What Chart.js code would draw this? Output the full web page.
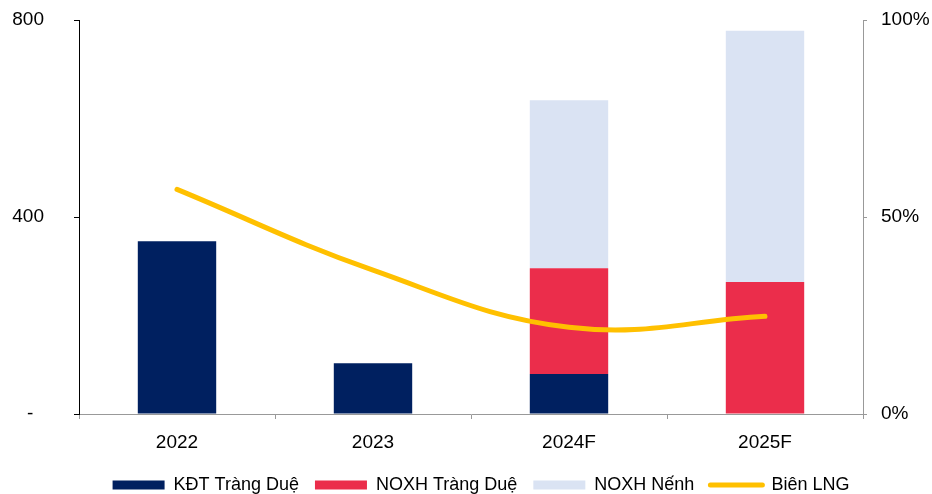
<!DOCTYPE html>
<html>
<head>
<meta charset="utf-8">
<script src="https://cdn.jsdelivr.net/npm/chart.js@4/dist/chart.umd.min.js"></script>
<style>
  html, body { margin: 0; padding: 0; background: #fff; }
  #wrap { width: 932px; height: 494px; }
</style>
</head>
<body>
<div id="wrap"><canvas id="my-chart" width="932" height="494"></canvas></div>
<script>
const years = ["2022", "2023", "2024F", "2025F"]
const kdtTrangDue = [351, 103, 81, 0]     // navy
const noxhTrangDue = [0, 0, 215, 268]     // red
const noxhNenh = [0, 0, 341, 510]         // light blue
const bienLNG = [57, 36.5, 22, 24.8]      // % right axis
const leftTicks = [0, 400, 800]
const rightTicks = [0, 50, 100]

const font = { family: "'Liberation Sans', Arial, sans-serif", size: 19 }

// fixed axis widths, and no extra room above the top tick label
function fixAxis(w) {
  return (s) => {
    s.width = w
    s.paddingTop = 0
    s.paddingBottom = 0
  }
}

// legend in the original sits a bit right of the canvas centre
const nudgeLegend = {
  id: 'nudgeLegend',
  afterLayout: (c) => {
    c.legend.left += 15
    c.legend.right += 15
  }
}

const ctx = document.getElementById('my-chart').getContext('2d')
const chart = new Chart(ctx, {
  plugins: [nudgeLegend],
  data: {
    labels: years,
    datasets: [
      {
        type: 'line',
        label: 'Biên LNG',
        data: bienLNG,
        yAxisID: 'y1',
        borderColor: '#FFC000',
        backgroundColor: '#FFC000',
        borderWidth: 5,
        borderCapStyle: 'round',
        tension: 0.4,
        pointRadius: 0,
        order: 0
      },
      { type: 'bar', label: 'KĐT Tràng Duệ', data: kdtTrangDue, backgroundColor: '#002060', stack: 's', order: 1 },
      { type: 'bar', label: 'NOXH Tràng Duệ', data: noxhTrangDue, backgroundColor: '#EB2D4B', stack: 's', order: 1 },
      { type: 'bar', label: 'NOXH Nếnh', data: noxhNenh, backgroundColor: '#DAE3F3', stack: 's', order: 1 }
    ]
  },
  options: {
    responsive: false,
    animation: false,
    layout: { padding: { top: 20, left: 0, right: 0, bottom: -10 } },
    datasets: { bar: { barPercentage: 0.4, categoryPercentage: 1 } },
    plugins: {
      tooltip: { enabled: false },
      legend: {
        position: 'bottom',
        labels: {
          font: { family: font.family, size: 18 },
          color: '#000',
          usePointStyle: true,
          pointStyleWidth: 52,
          boxHeight: 9,
          padding: 16,
          sort: (a, b) => (a.datasetIndex === 0) - (b.datasetIndex === 0),
          generateLabels: (c) => {
            const items = Chart.defaults.plugins.legend.labels.generateLabels(c)
            items.forEach(it => {
              if (it.datasetIndex === 0) {
                it.pointStyle = 'line'
                it.lineWidth = 5
                it.lineCap = 'round'
              } else {
                it.pointStyle = 'rect'
                it.lineWidth = 0
              }
            })
            return items
          }
        }
      }
    },
    scales: {
      x: {
        stacked: true,
        afterFit: (s) => { s.height = 46 },
        border: { color: '#999' },
        grid: { drawOnChartArea: false, color: '#999', tickLength: 5 },
        ticks: { font: font, color: '#000', padding: 12 }
      },
      y: {
        stacked: true,
        position: 'left',
        min: 0,
        max: 800,
        afterFit: fixAxis(79),
        afterBuildTicks: (s) => { s.ticks = leftTicks.map(v => ({ value: v })) },
        border: { color: '#000' },
        grid: { drawOnChartArea: false, color: '#000', tickLength: 5 },
        ticks: { font: font, color: '#000', padding: 30, callback: (v) => v === 0 ? '-  ' : v }
      },
      y1: {
        position: 'right',
        min: 0,
        max: 100,
        afterFit: fixAxis(69),
        afterBuildTicks: (s) => { s.ticks = rightTicks.map(v => ({ value: v })) },
        border: { color: '#999' },
        grid: { drawOnChartArea: false, color: '#999', tickLength: 4 },
        ticks: { font: font, color: '#000', padding: 14, callback: (v) => v + '%' }
      }
    }
  }
})
</script>
</body>
</html>
